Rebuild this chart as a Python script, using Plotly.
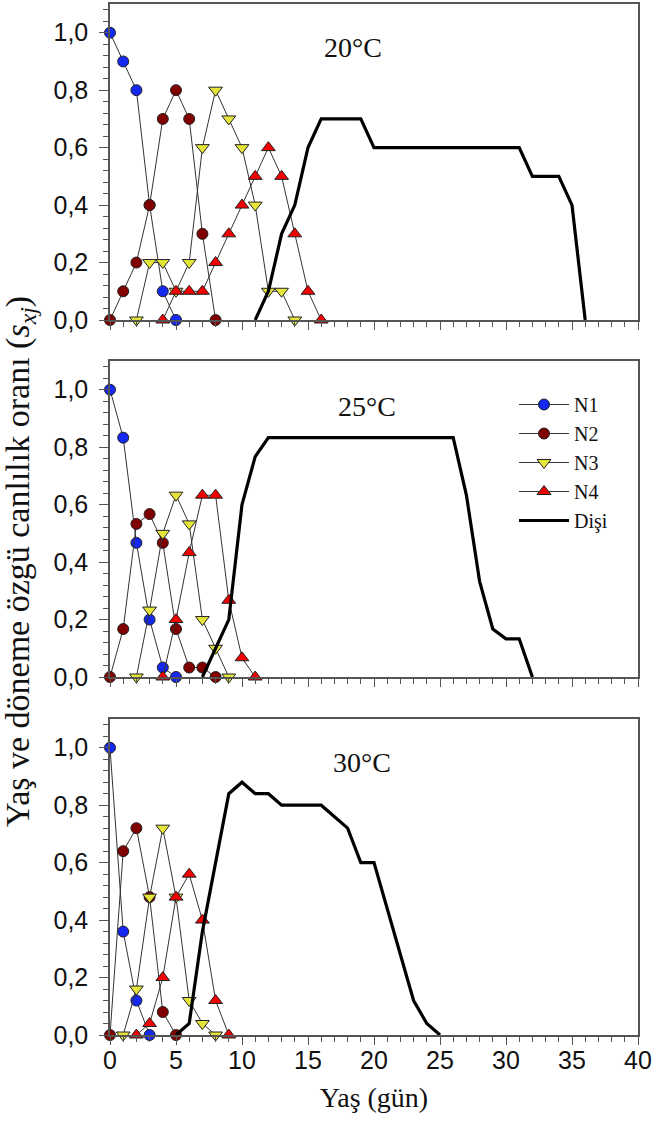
import plotly.graph_objects as go

# ---------------- data ----------------
# 20 °C
age20_n1 = [0, 1, 2, 3, 4, 5]
val20_n1 = [1.0, 0.9, 0.8, 0.4, 0.1, 0.0]
age20_n2 = [0, 1, 2, 3, 4, 5, 6, 7, 8]
val20_n2 = [0.0, 0.1, 0.2, 0.4, 0.7, 0.8, 0.7, 0.3, 0.0]
age20_n3 = [2, 3, 4, 5, 6, 7, 8, 9, 10, 11, 12, 13, 14]
val20_n3 = [0.0, 0.2, 0.2, 0.1, 0.2, 0.6, 0.8, 0.7, 0.6, 0.4, 0.1, 0.1, 0.0]
age20_n4 = [4, 5, 6, 7, 8, 9, 10, 11, 12, 13, 14, 15, 16]
val20_n4 = [0.0, 0.1, 0.1, 0.1, 0.2, 0.3, 0.4, 0.5, 0.6, 0.5, 0.3, 0.1, 0.0]
age20_f = [11, 12, 13, 14, 15, 16, 19, 20, 31, 32, 34, 35, 36]
val20_f = [0.0, 0.1, 0.3, 0.4, 0.6, 0.7, 0.7, 0.6, 0.6, 0.5, 0.5, 0.4, 0.0]

# 25 °C
age25_n1 = [0, 1, 2, 3, 4, 5]
val25_n1 = [1.0, 0.833, 0.467, 0.2, 0.033, 0.0]
age25_n2 = [0, 1, 2, 3, 4, 5, 6, 7, 8]
val25_n2 = [0.0, 0.167, 0.533, 0.567, 0.467, 0.167, 0.033, 0.033, 0.0]
age25_n3 = [2, 3, 4, 5, 6, 7, 8, 9]
val25_n3 = [0.0, 0.233, 0.5, 0.633, 0.533, 0.2, 0.1, 0.0]
age25_n4 = [4, 5, 6, 7, 8, 9, 10, 11]
val25_n4 = [0.0, 0.2, 0.433, 0.633, 0.633, 0.267, 0.067, 0.0]
age25_f = [7, 8, 9, 10, 11, 12, 26, 27, 28, 29, 30, 31, 32]
val25_f = [0.0, 0.1, 0.2, 0.6, 0.767, 0.833, 0.833, 0.633, 0.333, 0.167, 0.133, 0.133, 0.0]

# 30 °C
age30_n1 = [0, 1, 2, 3]
val30_n1 = [1.0, 0.36, 0.12, 0.0]
age30_n2 = [0, 1, 2, 3, 4, 5]
val30_n2 = [0.0, 0.64, 0.72, 0.48, 0.08, 0.0]
age30_n3 = [1, 2, 3, 4, 5, 6, 7, 8]
val30_n3 = [0.0, 0.16, 0.48, 0.72, 0.48, 0.12, 0.04, 0.0]
age30_n4 = [2, 3, 4, 5, 6, 7, 8, 9]
val30_n4 = [0.0, 0.04, 0.2, 0.48, 0.56, 0.4, 0.12, 0.0]
age30_f = [5, 6, 7, 8, 9, 10, 11, 12, 13, 16, 17, 18, 19, 20, 23, 24, 25]
val30_f = [0.0, 0.04, 0.36, 0.6, 0.84, 0.88, 0.84, 0.84, 0.8, 0.8, 0.76, 0.72, 0.6, 0.6, 0.12, 0.04, 0.0]

panel_titles = ["20°C", "25°C", "30°C"]
series_names = ["N1", "N2", "N3", "N4", "Dişi"]
x_ticks = [0, 5, 10, 15, 20, 25, 30, 35, 40]
y_ticks = [0.0, 0.2, 0.4, 0.6, 0.8, 1.0]

panels = [
    [(age20_n1, val20_n1), (age20_n2, val20_n2), (age20_n3, val20_n3), (age20_n4, val20_n4), (age20_f, val20_f)],
    [(age25_n1, val25_n1), (age25_n2, val25_n2), (age25_n3, val25_n3), (age25_n4, val25_n4), (age25_f, val25_f)],
    [(age30_n1, val30_n1), (age30_n2, val30_n2), (age30_n3, val30_n3), (age30_n4, val30_n4), (age30_f, val30_f)],
]

# ---------------- styles ----------------
marker_styles = [
    dict(symbol="circle", color="#1428F0", size=11),
    dict(symbol="circle", color="#800000", size=11),
    dict(symbol="triangle-down", color="#E4E43A", size=12),
    dict(symbol="triangle-up", color="#F00000", size=12),
]

fig = go.Figure()

W, H = 653, 1132
ml, mr, mt, mb = 110, 15, 4, 97
plot_w = W - ml - mr
plot_h = H - mt - mb
panel_px = [(4, 320), (361, 677), (719, 1035)]
domains = [[(H - mb - b) / plot_h, (H - mb - t) / plot_h] for (t, b) in panel_px]

for p, series in enumerate(panels):
    xa = "x" if p == 0 else f"x{p+1}"
    ya = "y" if p == 0 else f"y{p+1}"
    for s, (xs, ys) in enumerate(series):
        if s < 4:
            ms = marker_styles[s]
            fig.add_trace(go.Scatter(
                x=xs, y=ys, mode="lines+markers", name=series_names[s],
                line=dict(color="#333333", width=1),
                marker=dict(symbol=ms["symbol"], color=ms["color"], size=ms["size"],
                            line=dict(color="#222222", width=1)),
                xaxis=xa, yaxis=ya, cliponaxis=False,
                showlegend=(p == 1),
            ))
        else:
            fig.add_trace(go.Scatter(
                x=xs, y=ys, mode="lines", name=series_names[s],
                line=dict(color="#000000", width=3.2),
                xaxis=xa, yaxis=ya, cliponaxis=False,
                showlegend=(p == 1),
            ))

axis_color = "#555555"
tick_font = dict(family="Liberation Sans, Arial", size=25, color="#111111")
serif = "Liberation Serif, Times New Roman"
layout = dict(
    width=W, height=H,
    margin=dict(l=ml, r=mr, t=mt, b=mb),
    plot_bgcolor="white", paper_bgcolor="white",
    separators=", ",
    showlegend=True,
    legend=dict(
        x=(514 - ml) / plot_w, y=(H - mb - 385) / plot_h,
        xanchor="left", yanchor="top",
        font=dict(family=serif, size=20, color="#111111"),
        bgcolor="rgba(0,0,0,0)", itemwidth=50, tracegroupgap=0,
    ),
)

for p in range(3):
    xk = "xaxis" if p == 0 else f"xaxis{p+1}"
    yk = "yaxis" if p == 0 else f"yaxis{p+1}"
    ya = "y" if p == 0 else f"y{p+1}"
    xa = "x" if p == 0 else f"x{p+1}"
    layout[xk] = dict(
        domain=[0, 1], anchor=ya, range=[0, 40], automargin=False,
        tickvals=x_ticks, showticklabels=(p == 2),
        ticks="outside", ticklen=8, tickwidth=1, tickcolor=axis_color,
        minor=dict(dtick=1, tick0=0, ticks="outside", ticklen=5, tickwidth=1, tickcolor=axis_color),
        showline=True, linecolor=axis_color, linewidth=1.5, mirror=True,
        showgrid=False, zeroline=False, tickfont=tick_font,
    )
    layout[yk] = dict(
        domain=domains[p], anchor=xa, range=[0, 1.1], automargin=False,
        tickvals=y_ticks, tickformat=".1f",
        ticks="outside", ticklen=9, tickwidth=1, tickcolor=axis_color,
        minor=dict(dtick=0.04, tick0=0, ticks="outside", ticklen=5, tickwidth=1, tickcolor=axis_color),
        showline=True, linecolor=axis_color, linewidth=1.5, mirror=True,
        showgrid=False, zeroline=False, tickfont=tick_font,
        ticklabelstandoff=6,
    )

layout["xaxis3"]["ticklabelstandoff"] = -6
layout["xaxis3"]["title"] = dict(
    text="Yaş (gün)", standoff=15,
    font=dict(family=serif, size=28, color="#111111"),
)

fig.update_layout(**layout)

title_pos = [(18.4, 0.95), (19.5, 0.94), (19.1, 0.948)]
for p in range(3):
    xa = "x" if p == 0 else f"x{p+1}"
    ya = "y" if p == 0 else f"y{p+1}"
    fig.add_annotation(
        x=title_pos[p][0], y=title_pos[p][1], xref=xa, yref=ya,
        text=panel_titles[p], showarrow=False,
        font=dict(family=serif, size=28, color="#111111"),
        xanchor="center", yanchor="middle",
    )

fig.add_annotation(
    x=(20 - ml) / plot_w, y=(H - mb - 562) / plot_h, xref="paper", yref="paper",
    text="Yaş ve döneme özgü canlılık oranı (<i>s</i><sub><i>xj</i></sub>)",
    textangle=-90, showarrow=False, xanchor="center", yanchor="middle",
    font=dict(family=serif, size=34, color="#111111"),
)

fig.write_html("out.html", post_script="document.body.style.margin='0';",
               config={"displayModeBar": False})
